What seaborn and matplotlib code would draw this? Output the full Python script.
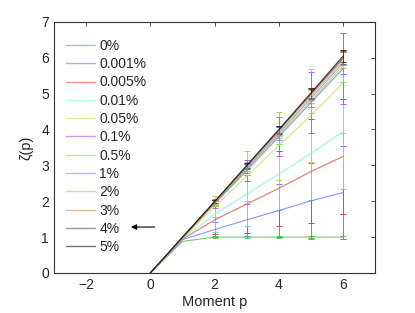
import numpy as np
import pandas as pd
import matplotlib
matplotlib.use("Agg")
import matplotlib.pyplot as plt
from matplotlib.lines import Line2D
import seaborn as sns

# moment orders
moments = [0, 1, 2, 3, 4, 5, 6]

# noise levels (legend labels)
levels = ['0%', '0.001%', '0.005%', '0.01%', '0.05%', '0.1%',
          '0.5%', '1%', '2%', '3%', '4%', '5%']

# zeta(p), one list per level
zeta_0 = [0, 0.88, 1.00, 1.00, 1.00, 1.00, 1.00]
zeta_0001 = [0, 0.93, 1.21, 1.48, 1.74, 2.01, 2.24]
zeta_0005 = [0, 0.94, 1.48, 1.92, 2.36, 2.83, 3.25]
zeta_001 = [0, 0.95, 1.64, 2.20, 2.76, 3.34, 3.95]
zeta_005 = [0, 0.96, 1.85, 2.70, 3.55, 4.40, 5.30]
zeta_01 = [0, 0.97, 1.93, 2.85, 3.80, 4.75, 5.70]
zeta_05 = [0, 0.97, 1.94, 2.88, 3.85, 4.80, 5.78]
zeta_1 = [0, 0.98, 1.95, 2.92, 3.90, 4.87, 5.86]
zeta_2 = [0, 0.98, 1.97, 2.95, 3.95, 4.93, 5.93]
zeta_3 = [0, 0.99, 1.98, 2.97, 3.97, 4.97, 5.97]
zeta_4 = [0, 0.99, 1.98, 2.98, 3.98, 5.00, 6.00]
zeta_5 = [0, 1.00, 1.99, 3.00, 4.00, 5.02, 6.05]

# error bar half-widths
err_0 = [0, 0, 0.02, 0.02, 0.02, 0.03, 0.04]
err_0001 = [0, 0, 0.20, 0.45, 0.75, 1.05, 1.30]
err_0005 = [0, 0, 0.40, 0.80, 1.05, 1.45, 1.60]
err_001 = [0, 0, 0.50, 0.90, 1.00, 1.30, 1.60]
err_005 = [0, 0, 0.30, 0.70, 0.95, 1.30, 1.40]
err_01 = [0, 0, 0.12, 0.30, 0.55, 0.85, 1.00]
err_05 = [0, 0, 0.08, 0.15, 0.25, 0.35, 0.45]
err_1 = [0, 0, 0.06, 0.12, 0.20, 0.25, 0.30]
err_2 = [0, 0, 0.05, 0.10, 0.14, 0.18, 0.22]
err_3 = [0, 0, 0.04, 0.08, 0.12, 0.15, 0.18]
err_4 = [0, 0, 0.04, 0.07, 0.10, 0.14, 0.18]
err_5 = [0, 0, 0.04, 0.07, 0.10, 0.14, 0.18]

zetas = [zeta_0, zeta_0001, zeta_0005, zeta_001, zeta_005, zeta_01,
         zeta_05, zeta_1, zeta_2, zeta_3, zeta_4, zeta_5]
errs = [err_0, err_0001, err_0005, err_001, err_005, err_01,
        err_05, err_1, err_2, err_3, err_4, err_5]

colors = ['#33bb33', '#5566ff', '#ff3333', '#66ffcc', '#c8d840', '#aa44ff',
          '#55ee22', '#7777ff', '#ff9955', '#bb8844', '#444444', '#000000']
bar_colors = ['#66cc66', '#7080ff', '#e04058', '#80d0b0', '#c0d050', '#b060e8',
              '#77dd55', '#8888ff', '#ffa070', '#c09060', '#666666', '#333333']

rows = []
for lev, z in zip(levels, zetas):
    for p, v in zip(moments, z):
        rows.append({'p': p, 'zeta': v, 'level': lev})
df = pd.DataFrame(rows)

sns.set_style("white")
plt.rcParams['font.family'] = ['Liberation Sans', 'DejaVu Sans']
plt.rcParams['xtick.direction'] = 'in'
plt.rcParams['ytick.direction'] = 'in'

fig = plt.figure(figsize=(4.15, 3.13), dpi=100)
ax = fig.add_axes([0.130, 0.128, 0.774, 0.802])

# error bars at p >= 2, later series drawn over earlier ones
for lev, z, e, c in zip(levels, zetas, errs, bar_colors):
    cont = ax.errorbar(moments[2:], z[2:], yerr=e[2:], fmt='none', ecolor=c,
                       elinewidth=0.7, capsize=2.5, capthick=0.7)
    for col in cont.lines[2]:
        col.set_antialiased(False)

sns.lineplot(data=df, x='p', y='zeta', hue='level', hue_order=levels,
             palette=colors, linewidth=0.8, alpha=0.7, ax=ax, legend=False)

ax.set_xlim(-3, 7)
ax.set_ylim(0, 7)
ax.set_xticks([-2, 0, 2, 4, 6])
ax.set_xticklabels(['\u22122', '0', '2', '4', '6'])
ax.set_yticks(range(8))
ax.tick_params(axis='both', labelsize=10, length=3, width=0.6,
               top=True, right=True, color='#333333')
for s in ax.spines.values():
    s.set_linewidth(0.8)
    s.set_color('#333333')

ax.set_xlabel('Moment p', fontsize=10.5, labelpad=2)
ax.set_ylabel('\u03b6(p)', fontsize=10.5, labelpad=6)

handles = [Line2D([], [], color=c, lw=1.0, alpha=0.55) for c in colors]
ax.legend(handles, levels, loc='upper left', bbox_to_anchor=(0.02, 0.955),
          frameon=False, fontsize=10, handlelength=2.1, handletextpad=0.3,
          labelspacing=0.31, borderaxespad=0)

ax.annotate('', xy=(-0.69, 1.28), xytext=(0.22, 1.28),
            arrowprops=dict(arrowstyle='-|>', color='black', lw=0.8,
                            mutation_scale=8))

fig.savefig('out.png', dpi=100)
